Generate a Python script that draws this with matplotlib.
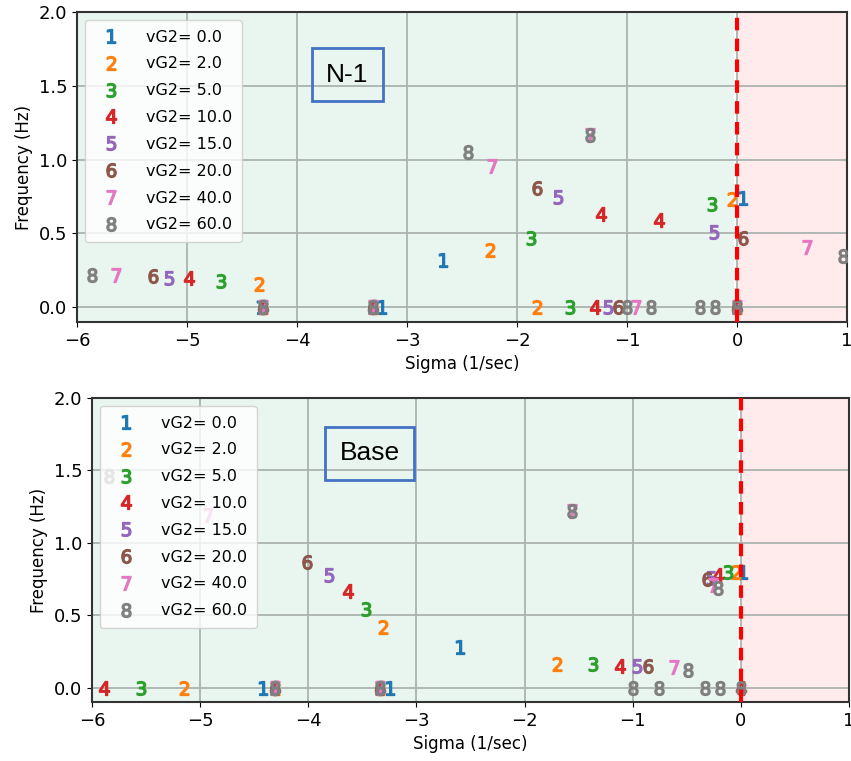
import matplotlib
matplotlib.use("Agg")
import matplotlib.pyplot as plt

# series labels (marker digit -> vG2 value)
vg2_values = [0.0, 2.0, 5.0, 10.0, 15.0, 20.0, 40.0, 60.0]

# N-1 case: sigma (1/sec) and frequency (Hz) of each mode, per vG2 setting
n1_sigma = [
    [-4.33, -3.23, -2.67, 0.05],
    [-4.35, -4.31, -3.31, -2.25, -1.82, -0.05, 0.0],
    [-4.69, -4.31, -3.31, -1.87, -1.52, -0.23, 0.0],
    [-4.98, -4.31, -3.31, -1.24, -1.29, -0.71, 0.0],
    [-5.16, -4.31, -3.31, -1.63, -1.17, -0.21, 0.0],
    [-5.31, -4.31, -3.31, -1.82, -1.08, 0.05, 0.0],
    [-5.65, -4.31, -3.31, -2.23, -1.34, -0.92, 0.64, 0.0],
    [-5.86, -4.31, -3.31, -2.45, -1.34, -1.0, -0.78, -0.34, -0.2, 0.96, 0.0],
]
n1_freq = [
    [0.0, 0.0, 0.32, 0.74],
    [0.16, 0.0, 0.0, 0.39, 0.0, 0.73, 0.0],
    [0.18, 0.0, 0.0, 0.47, 0.0, 0.70, 0.0],
    [0.20, 0.0, 0.0, 0.63, 0.0, 0.59, 0.0],
    [0.20, 0.0, 0.0, 0.75, 0.0, 0.51, 0.0],
    [0.21, 0.0, 0.0, 0.81, 0.0, 0.47, 0.0],
    [0.22, 0.0, 0.0, 0.96, 1.17, 0.0, 0.41, 0.0],
    [0.22, 0.0, 0.0, 1.05, 1.17, 0.0, 0.0, 0.0, 0.0, 0.35, 0.0],
]

# Base case
base_sigma = [
    [-4.42, -3.24, -2.60, 0.02],
    [-5.15, -4.31, -3.34, -3.31, -1.70, -0.04],
    [-5.55, -4.31, -3.34, -3.47, -1.37, -0.12],
    [-5.89, -4.31, -3.34, -3.63, -1.12, -0.21, 0.0],
    [-4.31, -3.34, -3.81, -0.96, -0.28],
    [-4.31, -3.34, -4.01, -0.86, -0.31],
    [-4.93, -4.31, -3.34, -1.56, -0.62, -0.26],
    [-5.84, -4.31, -3.34, -1.56, -0.49, -0.21, -1.0, -0.76, -0.33, -0.19, 0.0],
]
base_freq = [
    [0.0, 0.0, 0.28, 0.80],
    [0.0, 0.0, 0.0, 0.42, 0.16, 0.80],
    [0.0, 0.0, 0.0, 0.54, 0.16, 0.80],
    [0.0, 0.0, 0.0, 0.67, 0.15, 0.78, 0.0],
    [0.0, 0.0, 0.78, 0.15, 0.76],
    [0.0, 0.0, 0.87, 0.15, 0.75],
    [1.19, 0.0, 0.0, 1.22, 0.14, 0.71],
    [1.46, 0.0, 0.0, 1.22, 0.12, 0.69, 0.0, 0.0, 0.0, 0.0, 0.0],
]

colors = plt.rcParams['axes.prop_cycle'].by_key()['color']


def plot_eigs(ax, sigma, freq, tag):
    """digit markers per vG2 setting, stable/unstable shading and a tag box"""
    ax.axvspan(-6, -0.03, color='mediumseagreen', alpha=0.11, lw=0, zorder=0)
    ax.axvspan(0, 1, color='#ff6b6b', alpha=0.13, lw=0, zorder=0)
    ax.grid(True, color='#aab3ae', lw=1.3, zorder=1)
    ax.set_axisbelow(True)
    for i, (xs, ys) in enumerate(zip(sigma, freq)):
        ax.plot(xs, ys, ls='none', marker=f'${i + 1}$', markersize=10,
                color=colors[i], label=f'vG2= {vg2_values[i]}', zorder=3)
    ax.axvline(0, color='red', ls='--', lw=3, dashes=(3, 2), zorder=4)
    ax.set_xlim(-6, 1)
    ax.set_ylim(-0.1, 2.0)
    ax.set_xlabel('Sigma (1/sec)', fontsize=12)
    ax.set_ylabel('Frequency (Hz)', fontsize=12)
    ax.tick_params(labelsize=13)
    for s in ax.spines.values():
        s.set_linewidth(1.5)
        s.set_color('#333333')
    ax.legend(loc='upper left', fontsize=11.5, handletextpad=1.2, borderpad=0.6,
              labelspacing=0.74)
    ax.text(tag[1], tag[2], tag[0], transform=ax.transAxes, fontsize=19,
            family='Liberation Sans', ha='center', va='center',
            bbox=dict(boxstyle='square,pad=0.55', fc='none', ec='#4472c4', lw=2))


fig = plt.figure(figsize=(8.51, 7.61), dpi=100)
ax1 = fig.add_axes([0.0905, 0.5769, 0.9048, 0.4073])
ax2 = fig.add_axes([0.1081, 0.0775, 0.8895, 0.3995])

plot_eigs(ax1, n1_sigma, n1_freq, ('N-1', 0.351, 0.797))
plot_eigs(ax2, base_sigma, base_freq, ('Base', 0.367, 0.819))

fig.savefig('out.png', dpi=100)
